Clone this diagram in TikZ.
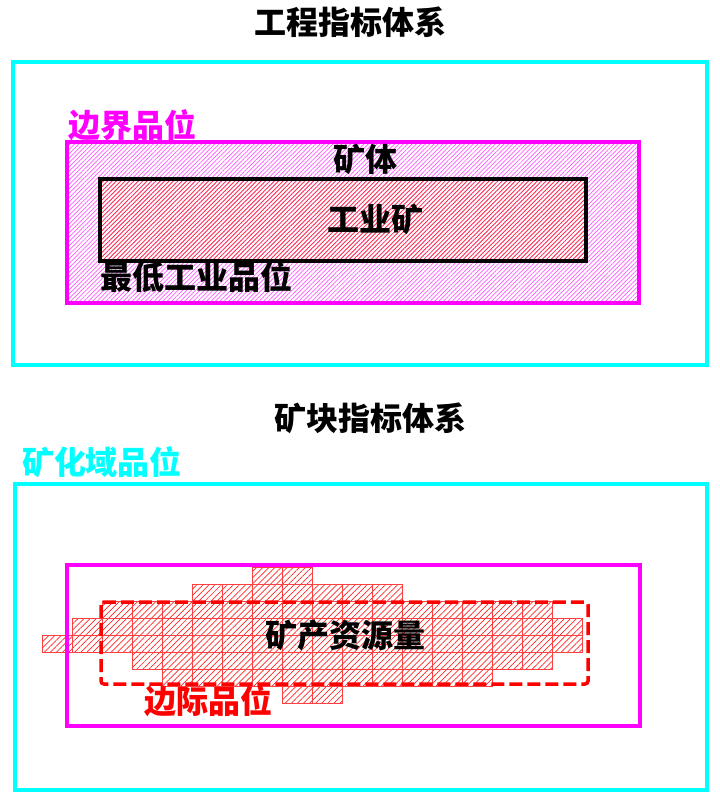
\documentclass[tikz,border=0pt]{standalone}
\usepackage{fontspec}
\newfontfamily\cjk{Noto Sans CJK SC}
\usetikzlibrary{patterns.meta}
\definecolor{aqua}{RGB}{0,255,255}
\definecolor{fuchsia}{RGB}{255,0,255}

\begin{document}
\begin{tikzpicture}[x=1pt,y=-1pt,
  frame/.style={draw=aqua,line width=3.5pt},
  zone/.style={draw=fuchsia,line width=4pt},
  cell/.style={draw=red!75,line width=.8pt,pattern={Lines[angle=45,distance=4.3pt,line width=.7pt]},pattern color=red!85},
  cutoff/.style={draw=red,line width=3.5pt,rounded corners=3pt,dash pattern=on 13pt off 5pt}]
  \useasboundingbox (0,0) rectangle (720,806);

  % engineering system
  \draw[frame] (13,62) rectangle (707,365);
  \draw[zone,pattern={Lines[angle=45,distance=3.1pt,line width=.7pt]},pattern color=fuchsia!65] (67,142) rectangle (639,303);
  \draw[line width=4pt,fill=white,pattern={Lines[angle=45,distance=3.1pt,line width=.7pt]},pattern color=red!80] (100,179) rectangle (586,261);

  % block system
  \draw[frame] (15,484) rectangle (707,790);
  \foreach \r/\a/\b in {0/7/8,1/5/11,2/2/16,3/1/17,4/0/17,5/3/16,6/4/14,7/8/9}
    \foreach \c in {\a,...,\b}
      \draw[cell] ({42+30*\c},{567+17*\r}) rectangle ++(30,17);
  \draw[zone] (67,565) rectangle (640,726);
  \draw[cutoff] (101,602) rectangle (588,684);

  \begin{scope}[every node/.style={font=\cjk\bfseries\fontsize{32}{32}\selectfont,inner sep=0pt}]
    \node (engtitle) at (350,22) {工程指标体系};
    \node[text=fuchsia] (boundary) at (132,125) {边界品位};
    \node (orebody) at (365,159) {矿体};
    \node (industrial) at (375,219) {工业矿};
    \node (mingrade) at (196,277) {最低工业品位};
    \node (blocktitle) at (370,418) {矿块指标体系};
    \node[text=aqua] (mineral) at (102,462) {矿化域品位};
    \node (resource) at (345,635) {矿产资源量};
    \node[text=red] (marginal) at (208,701) {边际品位};
  \end{scope}
\end{tikzpicture}
\end{document}
